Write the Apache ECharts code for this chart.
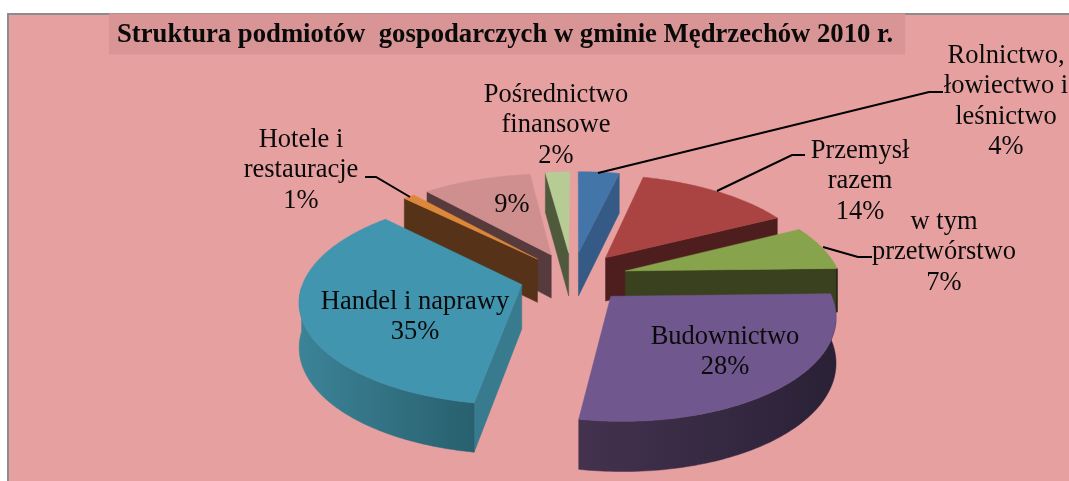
<!DOCTYPE html>
<html><head><meta charset="utf-8">
<style>html,body{margin:0;padding:0;background:#fff}#c{width:1069px;height:481px}</style>
<script src="https://cdn.jsdelivr.net/npm/echarts@6/dist/echarts.min.js"></script>
</head><body><div id="c"></div>
<script>
const names = ['Rolnictwo,\nłowiectwo i\nleśnictwo','Przemysł\nrazem','w tym\nprzetwórstwo','Budownictwo','Handel i naprawy','Hotele i\nrestauracje','','Pośrednictwo\nfinansowe'];
const values = [4,14,7,28,35,1,9,2];
const topColors  = ['#4475a8','#a94442','#87a44c','#70578d','#4195af','#dd873a','#cf8f8f','#b7cb95'];
const sideColors = ['#345a85','#4e1e1e','#3a411e','#3a2c48','#387a8e','#563218','#563a3c','#4f5a3c'];
const wallFrom   = ['#000','#000','#000','#44324f','#3c8398','#000','#000','#000'];
const wallTo     = ['#000','#000','#000','#2a2136','#28606e','#000','#000','#000'];
const paintRank  = [0,4,5,7,6,3,2,1];
const titleText  = 'Struktura podmiotów  gospodarczych w gminie Mędrzechów 2010 r.';
// label centre x / first-line centre y
const labelX = [1006,860,944,725,415,301,512,556];
const labelY = [56,151,222,337,302,140,205,95];
const leaders = [
  [[598,173],[929,92],[943,92]],
  [[717,191],[792,155],[805,155]],
  [[823,247],[858,257],[872,257]],
  [[410,197],[376,177],[365,177]]
];
// perspective projection of the tilted pie (unit radius in the plane)
const cx=576, horizon=-392, D=6.7, F=1460, H=4482, explode=0.25, shearX=0.085, shearY=-0.012, baseDepth=44;
const total = values.reduce((a,b)=>a+b,0);
let acc=0;
const starts = values.map(v=>{const s=acc; acc+=v/total*360; return s;});
const rad = d=>d*Math.PI/180;
function project(U,V,nudge){
  const z=D-V, x0=cx+F*U/z*(U>0?0.98:1), y0=horizon+H/z;
  return [x0+shearX*(y0-300)+(nudge||0), y0+shearY*(x0-575), baseDepth*(1+0.65*(D/z-1))];
}
function sliceRender(params, api){
  const i=params.dataIndex, v=api.value(0);
  const t0=starts[i], t1=t0+v/total*360, mid=(t0+t1)/2;
  const eu=explode*Math.sin(rad(mid)), ev=-explode*Math.cos(rad(mid));
  const backNudge=t=>{const d=Math.min(t,360-t);return 7.5*Math.exp(-(d/16)*(d/16));};
  const pt=t=>project(eu+Math.sin(rad(t)), ev-Math.cos(rad(t)), backNudge(t));
  const down=p=>[p[0],p[1]+p[2]];
  const arc=(a,b)=>{const o=[];const n=Math.max(2,Math.ceil(b-a));for(let j=0;j<=n;j++)o.push(pt(a+(b-a)*j/n));return o;};
  const tip=project(eu,ev);
  const z=paintRank[i]*10, kids=[];
  const face=(pts,fill,dz)=>kids.push({type:'polygon',z2:z+dz,shape:{points:pts.map(p=>[p[0],p[1]])},style:{fill:fill,stroke:fill,lineWidth:0.5}});
  if(Math.sin(rad(t0))<-1e-6){const p=pt(t0);face([tip,p,down(p),down(tip)],sideColors[i],1);}
  if(Math.sin(rad(t1))>1e-6){const p=pt(t1);face([tip,p,down(p),down(tip)],sideColors[i],1);}
  const a=Math.max(t0,90), b=Math.min(t1,270);
  if(b>a){
    const ar=arc(a,b);
    face(ar.concat(ar.map(down).reverse()),new echarts.graphic.LinearGradient(0,0,1,0,
      [{offset:0,color:wallFrom[i]},{offset:1,color:wallTo[i]}]),2);
  }
  face([tip].concat(arc(t0,t1)),topColors[i],3);
  const label=(names[i]?names[i]+'\n':'')+v+'%';
  kids.push({type:'text',z2:200,style:{text:label,x:labelX[i],y:labelY[i]-15.5,align:'center',verticalAlign:'top',
    font:'26.5px "Liberation Serif"',lineHeight:30.5,fill:'#0a0a0a'}});
  return {type:'group',children:kids};
}
const chart=echarts.init(document.getElementById('c'),null,{renderer:'canvas'});
chart.setOption({
  animation:false,
  backgroundColor:'#ffffff',
  title:{text:titleText,left:109,top:15,padding:[8,12,6,8],backgroundColor:'#d99595',
    textStyle:{fontFamily:'Liberation Serif',fontWeight:'bold',fontSize:26.7,color:'#0a0a0a',lineHeight:24}},
  graphic:[
    {type:'rect',z:-1,silent:true,shape:{x:8,y:14,width:1080,height:490},style:{fill:'#e6a0a0',stroke:'#8c8c8c',lineWidth:2}}
  ].concat(leaders.map(l=>({type:'polyline',z:5,silent:true,shape:{points:l},style:{stroke:'#000',lineWidth:2,fill:null}}))),
  series:[{type:'custom',coordinateSystem:'none',renderItem:sliceRender,clip:false,z:3,
    data:values.map((v,i)=>({value:[v],name:names[i]}))}]
});
</script></body></html>
